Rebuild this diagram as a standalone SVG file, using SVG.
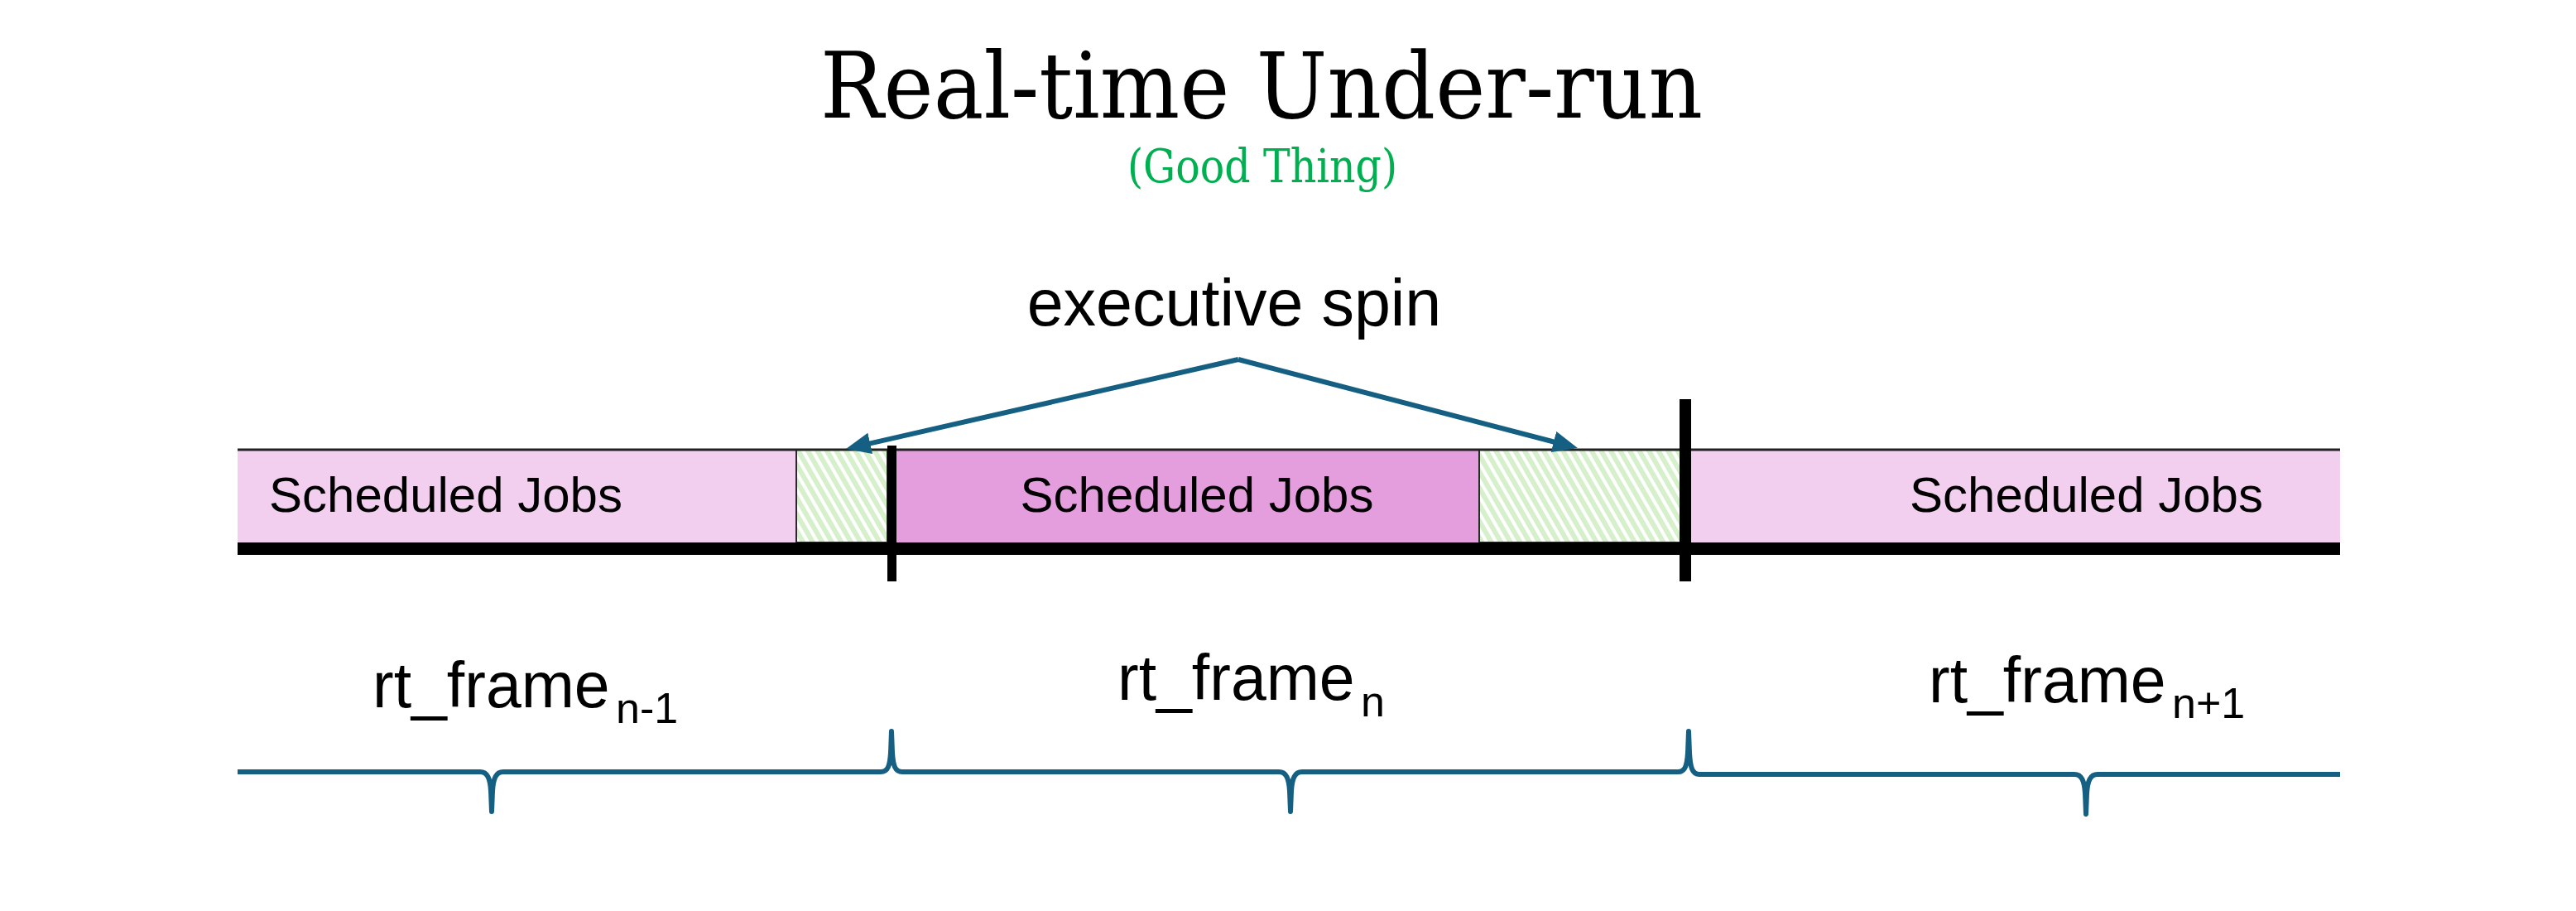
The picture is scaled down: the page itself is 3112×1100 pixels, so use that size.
<svg xmlns="http://www.w3.org/2000/svg" width="3112" height="1100" viewBox="0 0 3112 1100">
<style>
.sans{font-family:"Liberation Sans",Arial,sans-serif;fill:#000}
.serif{font-family:"DejaVu Serif","Liberation Serif",serif}
.job{font-size:60px}
.frm{font-size:77px}
.sub{font-size:52px}
.jl{fill:#F2CEEF}
.jd{fill:#E59EDD}
.sp{fill:url(#hatch);stroke:#2a2a2a;stroke-width:2}
.conn{fill:none;stroke:#156082;stroke-width:6}
.brace{fill:none;stroke:#156082;stroke-width:6;stroke-linejoin:round}
</style>
<defs>
<pattern id="hatch" patternUnits="userSpaceOnUse" width="10" height="10" patternTransform="rotate(-30)">
<rect x="0" y="0" width="10" height="10" fill="#ffffff"/>
<rect x="0" y="0" width="6" height="10" fill="#D6F0CB"/>
</pattern>
<marker id="ah" viewBox="0 0 30 26" refX="10" refY="13" markerWidth="30" markerHeight="26" markerUnits="userSpaceOnUse" orient="auto">
<path d="M0,0 L30,13 L0,26 z" fill="#156082"/>
</marker>
</defs>
<rect width="3112" height="1100" fill="#ffffff"/>

<g id="title">
<text class="serif" x="1524" y="142" font-size="110" text-anchor="middle" textLength="1066" lengthAdjust="spacingAndGlyphs" fill="#000">Real-time Under-run</text>
<text class="serif" x="1525" y="220" font-size="56" text-anchor="middle" textLength="326" lengthAdjust="spacingAndGlyphs" fill="#00B050">(Good Thing)</text>
</g>

<g id="label-spin">
<text class="sans" x="1491" y="393" font-size="79" text-anchor="middle">executive spin</text>
</g>

<g id="jobs-prev">
<rect class="jl" x="287" y="543" width="675" height="112"/>
<text class="sans job" x="325" y="618">Scheduled Jobs</text>
</g>
<g id="spin-1">
<rect class="sp" x="962" y="543" width="110" height="112"/>
</g>
<g id="jobs-cur">
<rect class="jd" x="1083" y="543" width="704" height="112"/>
<text class="sans job" x="1446" y="618" text-anchor="middle">Scheduled Jobs</text>
</g>
<g id="spin-2">
<rect class="sp" x="1787" y="543" width="244" height="112"/>
</g>
<g id="jobs-next">
<rect class="jl" x="2043" y="543" width="784" height="112"/>
<text class="sans job" x="2307" y="618">Scheduled Jobs</text>
</g>

<g id="timeline">
<line x1="287" y1="543" x2="2827" y2="543" stroke="#222" stroke-width="3"/>
<line x1="287" y1="662.5" x2="2827" y2="662.5" stroke="#000" stroke-width="15"/>
<rect x="1072" y="538" width="11" height="164" fill="#000"/>
<rect x="2029" y="482" width="14" height="220" fill="#000"/>
</g>

<g id="connectors">
<line class="conn" x1="1496" y1="434" x2="1041.5" y2="537.6" marker-end="url(#ah)"/>
<line class="conn" x1="1496" y1="434" x2="1886.6" y2="536" marker-end="url(#ah)"/>
</g>

<g id="braces">
<path class="brace" d="M287,932 L580,932 C589,932 592,940 593,955 L594,980 L595,955 C596,940 599,932 608,932 L1064,932 C1073,932 1075,924 1076,909 L1077,883 L1078,909 C1079,924 1081,932 1090,932 L1545,932 C1554,932 1557,940 1558,955 L1559,980 L1560,955 C1561,940 1564,932 1573,932 L2027,932 C2036,932 2038,924 2039,909 L2040,883 L2041,909 C2042,926 2044,935 2053,935 L2506,935 C2515,935 2518,943 2519,958 L2520,983 L2521,958 C2522,943 2525,935 2534,935 L2827,935"/>
</g>

<g id="frame-prev">
<text class="sans frm" x="450" y="854">rt_frame<tspan class="sub" x="744" y="873">n-1</tspan></text>
</g>
<g id="frame-cur">
<text class="sans frm" x="1350" y="845">rt_frame<tspan class="sub" x="1644" y="865">n</tspan></text>
</g>
<g id="frame-next">
<text class="sans frm" x="2330" y="848">rt_frame<tspan class="sub" x="2624" y="867">n+1</tspan></text>
</g>
</svg>
